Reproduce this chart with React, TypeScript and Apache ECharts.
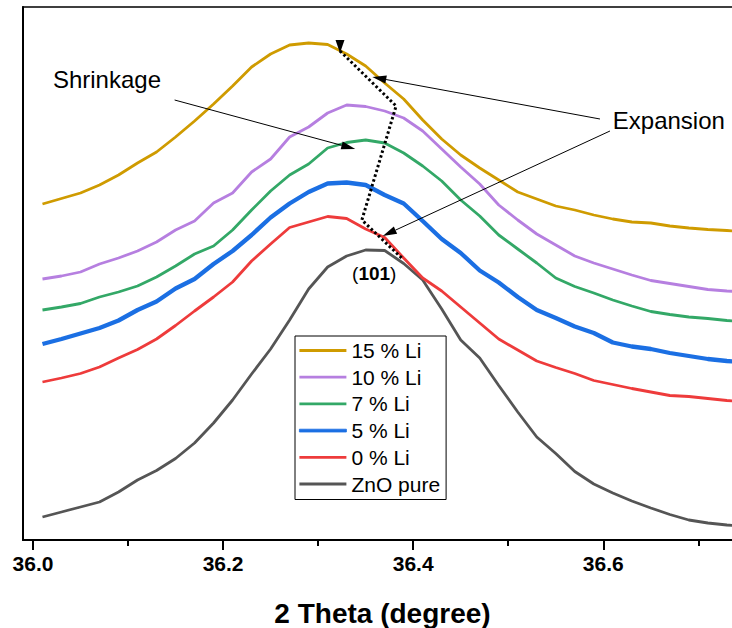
import React, { useEffect, useRef } from "react";
import * as echarts from "echarts";

// 2θ sampling (degree)
const twoTheta = [
  36.01, 36.03, 36.05, 36.07, 36.09, 36.11, 36.13, 36.15, 36.17, 36.19,
  36.21, 36.23, 36.25, 36.27, 36.29, 36.31, 36.33, 36.35, 36.37, 36.39,
  36.41, 36.43, 36.45, 36.47, 36.49, 36.51, 36.53, 36.55, 36.57, 36.59,
  36.61, 36.63, 36.65, 36.67, 36.69, 36.71, 36.73, 36.75,
];

// intensities (a.u., offset stacked)
const li15 = [
  336, 341.5, 347, 355, 365, 377, 388, 403, 419, 436,
  454, 473, 486, 495, 497, 495.5, 486, 474, 457, 441,
  420, 401, 385, 372, 360, 348, 341, 334, 330, 325,
  321, 318, 317, 314, 312, 310.5, 309.5, 308,
];
const li10 = [
  261, 264, 268, 276, 282, 289, 298, 310, 319, 337,
  347, 368, 381, 403, 413, 427, 435, 433.5, 429, 422,
  409, 391, 373, 356, 335, 320, 306, 295, 284, 277,
  271, 265, 259.5, 256.5, 253.5, 250.5, 249, 248,
];
const li7 = [
  230, 233, 236.5, 243, 248, 254, 263, 274, 286, 294,
  310, 330, 349, 365, 376, 392, 397.5, 400, 397, 387,
  374, 359, 340, 324, 305, 291, 277, 262, 253.5, 247,
  240, 234, 228.5, 225.5, 223, 221.5, 219.5, 218,
];
const li5 = [
  196, 201, 206.5, 212, 219.5, 230, 238.5, 251.5, 261, 276,
  289, 305, 322.5, 336.5, 348, 356.5, 357.5, 355, 345, 336.5,
  319, 301, 287, 269.5, 257.5, 243, 230, 222, 213.5, 207,
  197.5, 193.5, 191, 187, 184, 181, 179, 177.5,
];
const li0 = [
  158, 162, 166.5, 173, 182, 190.5, 201, 214.5, 229, 243,
  258, 279, 296, 312.5, 318, 323.5, 321.5, 311, 302.5, 282,
  262, 249, 233, 217, 201, 190, 179, 172.5, 166.5, 159.5,
  155.5, 151.5, 148, 144.5, 143.5, 141.5, 139.5, 138,
];
const znoPure = [
  23, 28, 33, 38, 48, 60, 69.5, 81.5, 97, 117,
  140, 166, 191, 220, 251, 273, 284, 290, 289.5, 276.5,
  260, 231, 200, 182, 154.5, 128, 103, 86.5, 68.5, 56,
  47, 39, 32, 25.5, 20, 17, 15, 13.5,
];

const seriesNames = ["15 % Li", "10 % Li", "7 % Li", "5 % Li", "0 % Li", "ZnO pure"];
const seriesData = [li15, li10, li7, li5, li0, znoPure];
const seriesColors = ["#CF9B00", "#B67FE0", "#33A867", "#1B6FE3", "#EE3B3B", "#555555"];
const seriesWidths = [2.8, 2.8, 2.8, 4.3, 2.8, 2.8];

const majorTicks = [36.0, 36.2, 36.4, 36.6];
const minorTicks = [36.1, 36.3, 36.5, 36.7];
const xMin = 35.9895;
const xMax = 36.7375;
const yMin = 0;
const yMax = 533;

// annotation anchors in data coordinates [2θ, intensity]
const shrinkLabelPos = [36.021, 461];
const shrinkArrow = [[36.149, 440], [36.339, 391]];
const expansionLabelPos = [36.61, 420];
const expansionArrow1 = [[36.5965, 421], [36.357, 463]];
const expansionArrow2 = [[36.607, 409], [36.368, 304]];
const shiftPath = [[36.323, 489], [36.382, 434], [36.346, 320], [36.389, 281]];
const planeLabelPos = [36.359, 267];

const FONT = "'Liberation Sans', Arial, Helvetica, sans-serif";

export default function App() {
  const ref = useRef<HTMLDivElement>(null);
  useEffect(() => {
    if (!ref.current) return;
    const chart = echarts.init(ref.current, null, { renderer: "svg" });
    const option: any = {
      animation: false,
      backgroundColor: "#fff",
      grid: {
        left: 23,
        right: -2,
        top: 7,
        bottom: 88,
        containLabel: false,
        outerBoundsMode: "none",
        show: true,
        borderColor: "#000",
        borderWidth: 1.5,
        backgroundColor: "transparent",
      },
      legend: {
        orient: "vertical",
        left: 295,
        top: 336,
        borderColor: "#000",
        borderWidth: 1,
        padding: [4, 6, 5, 4],
        itemWidth: 47,
        itemHeight: 2.8,
        itemGap: 5.7,
        icon: "rect",
        textStyle: { fontSize: 21, fontFamily: FONT, color: "#000", lineHeight: 21 },
        data: seriesNames.map((name, i) => ({
          name,
          icon: "rect",
          itemStyle: {
            color: seriesColors[i],
            borderColor: seriesColors[i],
            borderWidth: seriesWidths[i] > 3 ? 0.8 : 0,
          },
        })),
      },
      xAxis: [
        {
          type: "value",
          min: xMin,
          max: xMax,
          position: "bottom",
          name: "2 Theta (degree)",
          nameLocation: "middle",
          nameGap: 59,
          nameTextStyle: {
            fontSize: 28,
            fontWeight: "bold",
            fontFamily: FONT,
            color: "#000",
            padding: [0, 0, 0, 8],
          },
          axisLine: { show: true, lineStyle: { color: "#000", width: 2 } },
          axisTick: {
            show: true,
            inside: false,
            length: 10,
            customValues: majorTicks,
            lineStyle: { color: "#000", width: 2 },
          },
          axisLabel: {
            show: true,
            customValues: majorTicks,
            formatter: (v: number) => v.toFixed(1),
            fontSize: 21,
            fontWeight: "bold",
            fontFamily: FONT,
            color: "#000",
            margin: 13,
          },
          splitLine: { show: false },
        },
        {
          type: "value",
          min: xMin,
          max: xMax,
          position: "bottom",
          axisLine: { show: false },
          axisTick: {
            show: true,
            inside: false,
            length: 6,
            customValues: minorTicks,
            lineStyle: { color: "#000", width: 2 },
          },
          axisLabel: { show: false },
          splitLine: { show: false },
        },
      ],
      yAxis: {
        type: "value",
        min: yMin,
        max: yMax,
        axisLine: { show: true, lineStyle: { color: "#000", width: 2 } },
        axisTick: { show: false },
        axisLabel: { show: false },
        splitLine: { show: false },
      },
      series: seriesNames.map((name, i) => ({
        name,
        type: "line",
        xAxisIndex: 0,
        yAxisIndex: 0,
        data: twoTheta.map((x, j) => [x, seriesData[i][j]]),
        showSymbol: false,
        symbol: "none",
        clip: true,
        color: seriesColors[i],
        lineStyle: { color: seriesColors[i], width: seriesWidths[i] },
        z: 2 + (seriesNames.length - i),
      })),
    };
    chart.setOption(option);

    const px = (p: number[]) =>
      chart.convertToPixel({ xAxisIndex: 0, yAxisIndex: 0 }, p) as number[];

    const arrow = (from: number[], to: number[], headLen = 14, headW = 8) => {
      const a = px(from);
      const b = px(to);
      const dx = b[0] - a[0];
      const dy = b[1] - a[1];
      const L = Math.hypot(dx, dy);
      const ux = dx / L;
      const uy = dy / L;
      const bx = b[0] - ux * headLen;
      const by = b[1] - uy * headLen;
      const nx = -uy;
      const ny = ux;
      return [
        {
          type: "line",
          silent: true,
          z: 100,
          shape: { x1: a[0], y1: a[1], x2: bx, y2: by },
          style: { stroke: "#000", lineWidth: 1 },
        },
        {
          type: "polygon",
          silent: true,
          z: 100,
          shape: {
            points: [
              [b[0], b[1]],
              [bx + (nx * headW) / 2, by + (ny * headW) / 2],
              [bx - (nx * headW) / 2, by - (ny * headW) / 2],
            ],
          },
          style: { fill: "#000" },
        },
      ];
    };

    const sl = px(shrinkLabelPos);
    const el = px(expansionLabelPos);
    const pl = px(planeLabelPos);
    const pathPts = shiftPath.map(px);
    const top = pathPts[0];

    const graphic: any[] = [
      {
        type: "text",
        silent: true,
        z: 100,
        x: sl[0],
        y: sl[1],
        style: {
          text: "Shrinkage",
          font: `24px ${FONT}`,
          fill: "#000",
          textAlign: "left",
          textVerticalAlign: "middle",
          verticalAlign: "middle",
        },
      },
      {
        type: "text",
        silent: true,
        z: 100,
        x: el[0],
        y: el[1],
        style: {
          text: "Expansion",
          font: `24px ${FONT}`,
          fill: "#000",
          textAlign: "left",
          textVerticalAlign: "middle",
          verticalAlign: "middle",
        },
      },
      {
        type: "text",
        silent: true,
        z: 100,
        x: pl[0],
        y: pl[1],
        style: {
          text: "{a|(}{b|101}{a|)}",
          textAlign: "center",
          align: "center",
          textVerticalAlign: "middle",
          verticalAlign: "middle",
          fill: "#000",
          rich: {
            a: { fontSize: 19, fontFamily: FONT, fill: "#000", color: "#000" },
            b: { fontSize: 19, fontWeight: "bold", fontFamily: FONT, fill: "#000", color: "#000" },
          },
        },
      },
      ...arrow(shrinkArrow[0], shrinkArrow[1]),
      ...arrow(expansionArrow1[0], expansionArrow1[1]),
      ...arrow(expansionArrow2[0], expansionArrow2[1]),
      {
        type: "polyline",
        silent: true,
        z: 100,
        shape: { points: pathPts },
        style: { stroke: "#000", lineWidth: 3, lineDash: [2.5, 2.5], fill: null },
      },
      {
        type: "polygon",
        silent: true,
        z: 101,
        shape: {
          points: [
            [top[0], top[1] + 2],
            [top[0] - 4.5, top[1] - 11],
            [top[0] + 4.5, top[1] - 11],
          ],
        },
        style: { fill: "#000" },
      },
    ];
    chart.setOption({ graphic });

    return () => chart.dispose();
  }, []);

  return (
    <div
      ref={ref}
      style={{ position: "fixed", left: 0, top: 0, width: 732, height: 628, background: "#fff" }}
    />
  );
}
